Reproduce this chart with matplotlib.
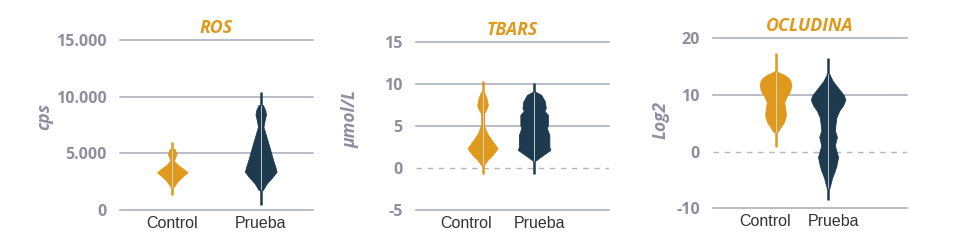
import matplotlib
matplotlib.use("Agg")
import matplotlib.pyplot as plt
from matplotlib.ticker import FuncFormatter
from matplotlib.transforms import ScaledTranslation

plt.rcParams["axes.unicode_minus"] = False

# === Data ===
groups = ["Control", "Prueba"]

# ROS (cps): whisker range + violin body profile (value, relative width)
ros_ctrl_range = (1320, 5970)
ros_ctrl_y = [5380, 4940, 4560, 4350, 3970, 3650, 3320, 2940, 2500, 2060]
ros_ctrl_w = [0.16, 0.27, 0.16, 0.11, 0.36, 0.68, 0.96, 0.63, 0.32, 0.11]
ros_prue_range = (440, 10440)
ros_prue_y = [9270, 8820, 8440, 7940, 7350, 6500, 5500, 4500, 3800, 3380, 2940, 2350, 1770]
ros_prue_w = [0.13, 0.28, 0.33, 0.25, 0.17, 0.35, 0.56, 0.76, 0.92, 1.00, 0.76, 0.38, 0.13]

# TBARS (umol/L)
tbars_ctrl_range = (-0.74, 10.39)
tbars_ctrl_y = [9.11, 8.32, 7.53, 6.93, 6.53, 5.14, 4.15, 3.35, 2.36, 1.56, 0.97, 0.37]
tbars_ctrl_w = [0.09, 0.25, 0.33, 0.22, 0.09, 0.09, 0.28, 0.56, 0.93, 0.62, 0.31, 0.09]
tbars_prue_range = (-0.70, 10.11)
tbars_prue_y = [9.12, 8.72, 7.92, 7.13, 6.85, 6.33, 5.14, 4.74, 3.95, 2.56, 2.16, 1.36, 0.85]
tbars_prue_w = [0.06, 0.44, 0.67, 0.72, 0.63, 0.85, 0.85, 0.79, 0.94, 0.94, 1.00, 0.41, 0.06]

# OCLUDINA (Log2)
ocl_ctrl_range = (0.88, 17.34)
ocl_ctrl_y = [14.2, 13.9, 13.5, 13.0, 12.4, 11.65, 10.7, 9.7, 8.7, 7.5, 6.35, 5.2, 4.3, 3.5]
ocl_ctrl_w = [0.06, 0.24, 0.52, 0.75, 0.87, 0.91, 0.84, 0.64, 0.50, 0.57, 0.60, 0.49, 0.29, 0.12]
ocl_prue_range = (-8.6, 16.6)
ocl_prue_y = [13.7, 12.5, 11.0, 10.0, 9.2, 8.2, 7.2, 6.05, 4.9, 3.76, 2.58, 1.1,
              -0.95, -2.3, -3.3, -4.6, -5.7, -6.5]
ocl_prue_w = [0.07, 0.26, 0.64, 0.90, 1.00, 0.87, 0.64, 0.48, 0.43, 0.39, 0.51, 0.39,
              0.58, 0.49, 0.40, 0.23, 0.14, 0.07]

# === Style ===
ORANGE = "#DF991C"
NAVY = "#1E3A4E"
GRID = "#A6A8B6"
ZERO = "#B4B4BC"
TICK = "#8E8E9E"
CENTER = "#D4DCE3"

panels = [
    dict(title="ROS", ylabel="cps", ylim=(0, 15000), yticks=[0, 5000, 10000, 15000],
         rect=[0.125, 0.1667, 0.201, 0.6746], xlim=(-0.59, 1.59), half=0.179,
         dashed_zero=False, thousands=True, label_xy=(-0.347, 0.55), lbl_shift=(0, 0),
         violins=[(ros_ctrl_range, ros_ctrl_y, ros_ctrl_w),
                  (ros_prue_range, ros_prue_y, ros_prue_w)]),
    dict(title="TBARS", ylabel="µmol/L", ylim=(-5, 15), yticks=[-5, 0, 5, 10, 15],
         rect=[0.4333, 0.1667, 0.201, 0.6655], xlim=(-1.29, 2.45), half=0.314,
         dashed_zero=True, thousands=False, label_xy=(-0.29, 0.54), lbl_shift=(-16, 5),
         violins=[(tbars_ctrl_range, tbars_ctrl_y, tbars_ctrl_w),
                  (tbars_prue_range, tbars_prue_y, tbars_prue_w)]),
    dict(title="OCLUDINA", ylabel="Log2", ylim=(-10, 20), yticks=[-10, 0, 10, 20],
         rect=[0.7427, 0.1734, 0.202, 0.6746], xlim=(-1.19, 2.50), half=0.329,
         dashed_zero=True, thousands=False, label_xy=(-0.222, 0.52), lbl_shift=(-10.5, 5),
         violins=[(ocl_ctrl_range, ocl_ctrl_y, ocl_ctrl_w),
                  (ocl_prue_range, ocl_prue_y, ocl_prue_w)]),
]

fig = plt.figure(figsize=(9.6, 2.52), dpi=100)

for p in panels:
    ax = fig.add_axes(p["rect"])
    ax.set_xlim(*p["xlim"])
    ax.set_ylim(*p["ylim"])
    for s in ax.spines.values():
        s.set_visible(False)

    # gridlines
    for t in p["yticks"]:
        if t == 0 and p["dashed_zero"]:
            ax.axhline(t, color=ZERO, lw=1.0, ls=(0, (4, 4)), zorder=1)
        else:
            ax.axhline(t, color=GRID, lw=1.1, zorder=1, clip_on=False)

    # violins
    for i, ((lo, hi), ys, ws) in enumerate(p["violins"]):
        color = ORANGE if i == 0 else NAVY
        ax.vlines(i, lo, hi, color=color, lw=1.8, zorder=3)
        half = [w * p["half"] for w in ws]
        ax.fill_betweenx(ys, [i - h for h in half], [i + h for h in half],
                         color=color, lw=0.6, edgecolor=color, zorder=3)
        ax.vlines(i, ys[-1], ys[0], color=CENTER, lw=0.7, alpha=0.85, zorder=4)

    # y axis
    ax.set_yticks(p["yticks"])
    if p["thousands"]:
        ax.yaxis.set_major_formatter(FuncFormatter(lambda v, _: f"{int(v):,}".replace(",", ".")))
    ax.tick_params(axis="y", length=0, pad=9.5, labelsize=11.5, labelcolor=TICK)
    for lab in ax.get_yticklabels():
        lab.set_fontfamily("Open Sans")
        lab.set_fontweight("bold")
    ax.set_ylabel(p["ylabel"], color=TICK, fontsize=12.5, fontweight="bold",
                  fontstyle="italic", family=["Open Sans", "DejaVu Sans"])
    ax.yaxis.set_label_coords(*p["label_xy"])

    # x axis
    ax.set_xticks([0, 1])
    ax.set_xticklabels(groups, fontsize=11.5, color="#333333", family="Liberation Sans")
    ax.tick_params(axis="x", length=0, pad=4)
    for lab, dx in zip(ax.get_xticklabels(), p["lbl_shift"]):
        lab.set_transform(lab.get_transform() + ScaledTranslation(dx / 100, 0, fig.dpi_scale_trans))

    ax.set_title(p["title"], color=ORANGE, fontsize=12.8, fontweight="bold",
                 fontstyle="italic", family="Open Sans", pad=5)

fig.savefig("out.png", dpi=100)
